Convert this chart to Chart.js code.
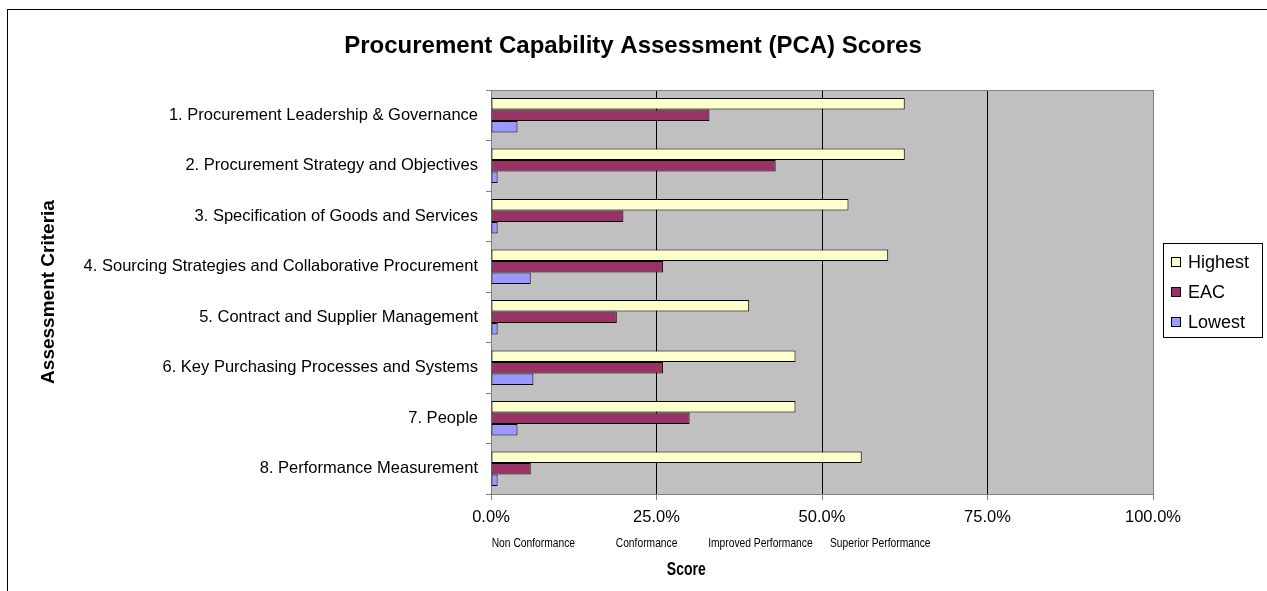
<!DOCTYPE html>
<html>
<head>
<meta charset="utf-8">
<script src="https://cdn.jsdelivr.net/npm/chart.js@4.4.0/dist/chart.umd.min.js"></script>
<style>
	html, body { margin: 0; padding: 0; background: #fff; }
	canvas { display: block; }
</style>
</head>
<body>
<canvas id="pca-canvas" width="1267" height="591"></canvas>
<script>
const chartTitle = "Procurement Capability Assessment (PCA) Scores";
const criteria = [
	"1. Procurement Leadership & Governance",
	"2. Procurement Strategy and Objectives",
	"3. Specification of Goods and Services",
	"4. Sourcing Strategies and Collaborative Procurement",
	"5. Contract and Supplier Management",
	"6. Key Purchasing Processes and Systems",
	"7. People",
	"8. Performance Measurement",
];
const highest = [62.5, 62.5, 54, 60, 39, 46, 46, 56];
const eac = [33, 43, 20, 26, 19, 26, 30, 6];
const lowest = [4, 1, 1, 6, 1, 6.4, 4, 1];
const seriesNames = ["Highest", "EAC", "Lowest"];
const seriesColors = ["#ffffcc", "#993366", "#9999ff"];
const bandNames = ["Non Conformance", "Conformance", "Improved Performance", "Superior Performance"];
const xTitle = "Score";

const FONT = "'Liberation Sans', Arial, sans-serif";

// frame, title, plot background, band labels under the axis and the legend box
const pcaExtras = {
	id: "pcaExtras",
	beforeDraw(chart) {
		const ctx = chart.ctx;
		const a = chart.chartArea;
		ctx.save();
		ctx.strokeStyle = "#000";
		ctx.lineWidth = 1;
		ctx.strokeRect(7.5, 9.5, 1400, 800);
		ctx.fillStyle = "#c0c0c0";
		ctx.fillRect(a.left, a.top, a.right - a.left, a.bottom - a.top);

		ctx.fillStyle = "#000";
		ctx.font = "bold 24px " + FONT;
		ctx.textAlign = "center";
		ctx.textBaseline = "middle";
		ctx.fillText(chartTitle, 633, 46);
		ctx.restore();
	},
	beforeDatasetsDraw(chart) {
		const ctx = chart.ctx;
		const a = chart.chartArea;
		ctx.save();
		ctx.strokeStyle = "#808080";
		ctx.lineWidth = 1;
		ctx.beginPath();
		ctx.moveTo(a.left, a.top + 0.5);
		ctx.lineTo(a.right + 0.5, a.top + 0.5);
		ctx.lineTo(a.right + 0.5, a.bottom);
		ctx.stroke();
		ctx.restore();
	},
	afterDraw(chart) {
		const ctx = chart.ctx;
		const x = chart.scales.x;
		ctx.save();

		// band names and axis title, squeezed like the original text box
		const bandAt = [6.4, 23.5, 40.7, 58.8];
		ctx.font = "13px " + FONT;
		ctx.fillStyle = "#000";
		ctx.textAlign = "center";
		ctx.textBaseline = "middle";
		bandNames.forEach((name, i) => {
			const w = ctx.measureText(name).width;
			ctx.fillText(name, x.getPixelForValue(bandAt[i]), 543, w * 0.79);
		});
		ctx.font = "bold 18px " + FONT;
		ctx.fillText(xTitle, x.getPixelForValue(29.5), 570, ctx.measureText(xTitle).width * 0.78);

		// legend
		ctx.strokeStyle = "#000";
		ctx.lineWidth = 1;
		ctx.strokeRect(1163.5, 243.5, 99, 94);
		ctx.font = "18px " + FONT;
		ctx.textAlign = "left";
		chart.data.datasets.forEach((ds, i) => {
			const cy = 262 + i * 30;
			ctx.fillStyle = ds.backgroundColor;
			ctx.fillRect(1171.5, cy - 4.5, 9, 9);
			ctx.strokeRect(1171.5, cy - 4.5, 9, 9);
			ctx.fillStyle = "#000";
			ctx.fillText(ds.label, 1188, cy + 1);
		});
		ctx.restore();
	},
};

new Chart("pca-canvas", {
	type: "bar",
	data: {
		labels: criteria,
		datasets: [
			{ label: seriesNames[0], data: highest, backgroundColor: seriesColors[0] },
			{ label: seriesNames[1], data: eac, backgroundColor: seriesColors[1] },
			{ label: seriesNames[2], data: lowest, backgroundColor: seriesColors[2] },
		],
	},
	options: {
		indexAxis: "y",
		responsive: false,
		animation: false,
		layout: {
			padding: { top: 90, right: 114, bottom: 0, left: 0 },
		},
		datasets: {
			bar: {
				categoryPercentage: 0.68,
				barPercentage: 1.0,
				borderWidth: 1,
				borderColor: "#000",
				borderSkipped: false,
			},
		},
		plugins: {
			legend: { display: false },
			tooltip: { enabled: false },
			title: { display: false },
		},
		scales: {
			x: {
				min: 0,
				max: 100,
				afterFit: (scale) => { scale.height = 97; },
				ticks: {
					stepSize: 25,
					color: "#000",
					padding: 8,
					font: { family: FONT, size: 16.5 },
					callback: (v) => v.toFixed(1) + "%",
				},
				grid: {
					color: (c) => (c.tick && (c.tick.value === 0 || c.tick.value === 100) ? "#808080" : "#000"),
					tickColor: "#808080",
					tickLength: 6,
				},
				border: { display: true, color: "#808080" },
			},
			y: {
				afterFit: (scale) => { scale.width = 491; },
				ticks: {
					color: "#000",
					padding: 8,
					font: { family: FONT, size: 16.5 },
				},
				grid: {
					drawOnChartArea: false,
					drawTicks: true,
					tickLength: 5,
					color: "#808080",
				},
				border: { display: true, color: "#808080" },
				title: {
					display: true,
					text: "Assessment Criteria",
					color: "#000",
					font: { family: FONT, size: 19, weight: "bold" },
					padding: { top: 37, bottom: 0 },
				},
			},
		},
	},
	plugins: [pcaExtras],
});
</script>
</body>
</html>
